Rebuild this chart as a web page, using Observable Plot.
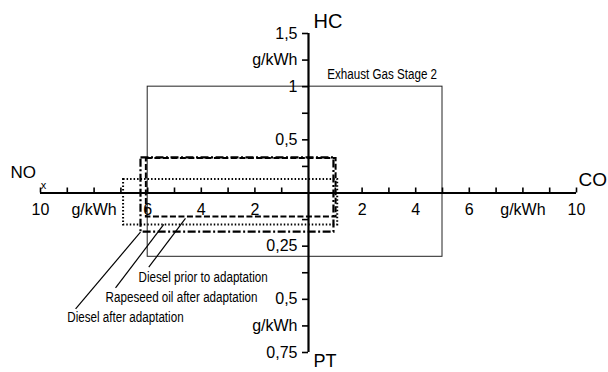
<!DOCTYPE html>
<html><head><meta charset="utf-8">
<script src="https://cdn.jsdelivr.net/npm/d3@7"></script>
<script src="https://cdn.jsdelivr.net/npm/@observablehq/plot@0.6"></script>
<style>html,body{margin:0;padding:0;background:#fff;}</style>
</head><body><div id="chart"></div>
<script>
// Emission boxes, all values in g/kWh
const series    = ["Exhaust Gas Stage 2", "Diesel prior to adaptation", "Rapeseed oil after adaptation", "Diesel after adaptation"];
const noxValues = [6.0, 6.05, 6.9, 6.25];
const coValues  = [5.0, 1.03, 1.09, 0.95];
const hcValues  = [1.0, 0.325, 0.127, 0.33];
const ptValues  = [0.30, 0.113, 0.15, 0.184];

// Axis ticks and labels
const xTickValues  = [1, 2, 3, 4, 5, 6, 7, 8, 9, 10];
const xLabelValues = [2, 4, 6, 8, 10];
const xLabelTexts  = ["2", "4", "6", "g/kWh", "10"];
const hcTickValues  = [0.25, 0.5, 0.75, 1, 1.25, 1.5];
const hcLabelValues = [0.5, 1, 1.25, 1.5];
const hcLabelTexts  = ["0,5", "1", "g/kWh", "1,5"];
const ptTickValues  = [0.125, 0.25, 0.375, 0.5, 0.625, 0.75];
const ptLabelValues = [0.25, 0.5, 0.625, 0.75];
const ptLabelTexts  = ["0,25", "0,5", "g/kWh", "0,75"];

// Annotation anchors (g/kWh): Exhaust Gas label starts at CO 0.7 above HC 1
const exhaustLabelCo = 0.7;
// Leader lines (NOx / PT quadrant) for series 1..3
const leaderFromNox = [4.59, 5.4, 6.27];
const leaderFromPt  = [0.119, 0.148, 0.184];
const leaderToNox   = [5.96, 7.2, 8.69];
const leaderToPt    = [0.349, 0.446, 0.545];
const leaderLabelNox = [6.34, 7.57, 9.0];
const leaderLabelPt  = [0.396, 0.493, 0.587];

// Build table: x = CO (right, +) / NOx (left, -); y = HC (up, +) / PT (down, -)
const boxes = series.map((name, i) => ({name, x1: -noxValues[i], x2: coValues[i], y1: -ptValues[i], y2: hcValues[i]}));
const leaders = [1, 2, 3].map((s, j) => ({
  name: series[s],
  x1: -leaderFromNox[j], y1: -leaderFromPt[j],
  x2: -leaderToNox[j], y2: -leaderToPt[j],
  lx: -leaderLabelNox[j], ly: -leaderLabelPt[j]
}));

const styles = {
  "Exhaust Gas Stage 2": {stroke: "#222", strokeWidth: 1},
  "Diesel prior to adaptation": {stroke: "#000", strokeWidth: 2, strokeDasharray: "6,2.5"},
  "Rapeseed oil after adaptation": {stroke: "#000", strokeWidth: 2, strokeDasharray: "1.5,2"},
  "Diesel after adaptation": {stroke: "#000", strokeWidth: 2.2, strokeDasharray: "8,2.5,2,2.5"}
};

const chart = Plot.plot({
  width: 608,
  height: 372,
  margin: 0,
  style: {fontFamily: "'Liberation Sans', Arial, sans-serif", background: "#fff", color: "#000", overflow: "visible"},
  x: {type: "linear", domain: [-10, 10], range: [40, 576], axis: null},
  y: {type: "linear", domain: [-0.75, 0, 1.5], range: [352, 192.5, 33], axis: null},
  marks: [
    ...series.map(name => Plot.rect(boxes.filter(d => d.name === name), {
      x1: "x1", x2: "x2", y1: "y1", y2: "y2", fill: "none", ...styles[name]
    })),
    // axes
    Plot.ruleY([0], {x1: -10, x2: 10, stroke: "#000", strokeWidth: 2}),
    Plot.ruleX([0], {y1: -0.75, y2: 1.5, stroke: "#000", strokeWidth: 2.2}),
    // horizontal ticks
    Plot.ruleX(xTickValues.map(d => -d).concat(xTickValues), {x: d => d, y1: 0, y2: 0, insetTop: -5, stroke: "#000", strokeWidth: 1.6}),
    // vertical ticks
    Plot.ruleY(hcTickValues.concat(ptTickValues.map(d => -d)), {y: d => d, x1: 0, x2: 0, insetLeft: -6, stroke: "#000", strokeWidth: 1.6}),
    // horizontal tick labels
    Plot.text(xLabelValues, {x: d => -d, y: 0, text: (d, i) => xLabelTexts[i], dy: 17, fontSize: 16}),
    Plot.text(xLabelValues, {x: d => d, y: 0, text: (d, i) => xLabelTexts[i], dy: 17, fontSize: 16}),
    // vertical tick labels
    Plot.text(hcLabelValues, {x: 0, y: d => d, text: (d, i) => hcLabelTexts[i], textAnchor: "end", dx: -11, fontSize: 16}),
    Plot.text(ptLabelValues, {x: 0, y: d => -d, text: (d, i) => ptLabelTexts[i], textAnchor: "end", dx: -11, fontSize: 16}),
    // axis titles
    Plot.text(["NO"], {x: -10, y: 0, text: d => d, dx: -30, dy: -20, textAnchor: "start", fontSize: 17}),
    Plot.text(["x"], {x: -10, y: 0, text: d => d, dx: 3, dy: -8, textAnchor: "middle", fontSize: 11}),
    Plot.text(["CO"], {x: 10, y: 0, text: d => d, dx: 2, dy: -13, textAnchor: "start", fontSize: 19}),
    Plot.text(["HC"], {x: 0, y: 1.5, text: d => d, dx: 5, dy: -12, textAnchor: "start", fontSize: 20}),
    Plot.text(["PT"], {x: 0, y: -0.75, text: d => d, dx: 5, dy: 9, textAnchor: "start", fontSize: 18}),
    // Exhaust gas label
    Plot.text(boxes.slice(0, 1), {x: exhaustLabelCo, y: "y2", text: "name", textAnchor: "start", dy: -12, fontSize: 14}),
    // leader lines and labels
    Plot.link(leaders, {x1: "x1", y1: "y1", x2: "x2", y2: "y2", stroke: "#000", strokeWidth: 1.2}),
    Plot.text(leaders, {x: "lx", y: "ly", text: "name", textAnchor: "start", fontSize: 14})
  ]
});
document.getElementById("chart").appendChild(chart);
// Condense the annotation labels (reference uses a narrow typeface)
const narrowNames = new Set(series);
chart.querySelectorAll("text").forEach(t => {
  if (narrowNames.has(t.textContent)) {
    const w = t.getComputedTextLength();
    t.setAttribute("textLength", (w * 0.83).toFixed(1));
    t.setAttribute("lengthAdjust", "spacingAndGlyphs");
  }
});
</script>
</body></html>
